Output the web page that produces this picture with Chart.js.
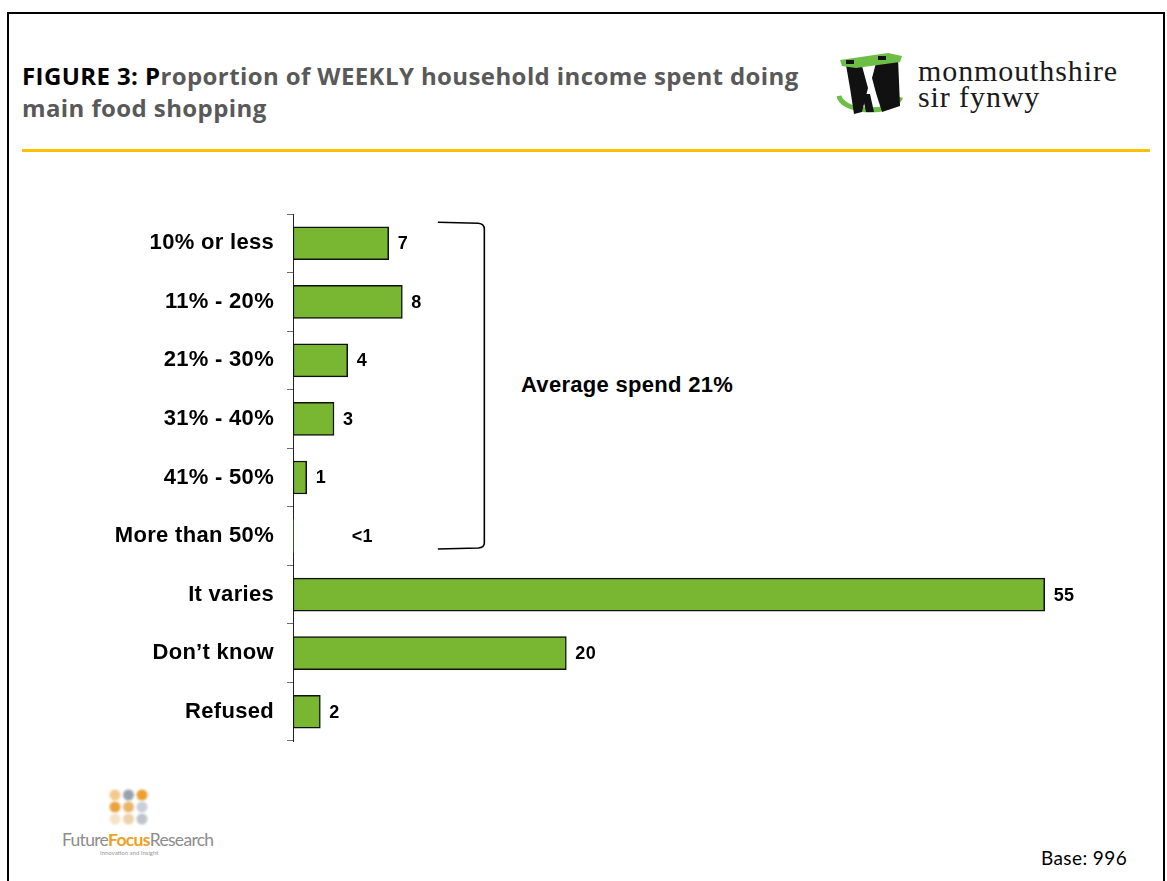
<!DOCTYPE html>
<html>
<head>
<meta charset="utf-8">
<title>Proportion of weekly household income spent doing main food shopping</title>
<script src="https://cdn.jsdelivr.net/npm/chart.js@4.4.1/dist/chart.umd.min.js"></script>
<style>
  html, body { margin: 0; padding: 0; background: #fff; }
  #wrap { position: relative; width: 1167px; height: 881px; overflow: hidden; background: #fff; }
  #frame { position: absolute; left: 7px; top: 12px; width: 1158px; height: 900px;
           border: 2px solid #000; border-bottom: none; box-sizing: border-box; }
  #rule { position: absolute; left: 22px; top: 149px; width: 1128px; height: 3px; background: #FFC000; }
  #title { position: absolute; left: 22px; top: 60px; font-family: "Open Sans", Lato, sans-serif;
           font-weight: 700; font-size: 24px; line-height: 32px; letter-spacing: 0.4px;
           color: #595959; white-space: nowrap; }
  #title .lead { color: #000; }
  #council { position: absolute; left: 918px; top: 58px; font-family: "Liberation Serif", "DejaVu Serif", serif;
             font-size: 30px; line-height: 26px; letter-spacing: 0.9px; color: #1a1a1a; }
  #avg { position: absolute; left: 521px; top: 372px; font-family: "Liberation Sans", Arial, sans-serif;
         font-weight: 700; font-size: 22px; letter-spacing: 0.3px; color: #000; white-space: nowrap; }
  #ffr { position: absolute; left: 62px; top: 829px; font-family: Lato, "Open Sans", sans-serif;
         font-size: 17.5px; letter-spacing: -0.7px; color: #8c8c8c; white-space: nowrap; }
  #ffr b { color: #F0A020; }
  #ffrsub { position: absolute; left: 100px; top: 849px; font-family: Lato, sans-serif; font-size: 6px; color: #999; }
  #base { position: absolute; left: 1041px; top: 846px; font-family: Lato, "Open Sans", sans-serif;
          font-size: 19px; letter-spacing: 0.4px; color: #000; white-space: nowrap; }
  canvas#chart { position: absolute; left: 0; top: 0; }
  canvas#emblem, canvas#dots { position: absolute; }
</style>
</head>
<body>
<div id="wrap">
  <div id="frame"></div>
  <div id="title"><span class="lead">FIGURE 3: P</span>roportion of WEEKLY household income spent doing<br>main food shopping</div>
  <canvas id="emblem" width="80" height="70" style="left:832px;top:48px"></canvas>
  <div id="council">monmouthshire<br>sir fynwy</div>
  <div id="rule"></div>
  <div id="avg">Average spend 21%</div>
  <canvas id="dots" width="50" height="42" style="left:104px;top:784px"></canvas>
  <div id="ffr">Future<b>Focus</b>Research</div>
  <div id="ffrsub">Innovation and Insight</div>
  <div id="base">Base: 996</div>
  <canvas id="chart" width="1167" height="881"></canvas>
</div>

<script>
// Answer categories (top to bottom)
const categories = [
  '10% or less', '11% - 20%', '21% - 30%', '31% - 40%', '41% - 50%',
  'More than 50%', 'It varies', 'Don\u2019t know', 'Refused'
];
// Percentage of respondents
const shares = [7, 8, 4, 3, 1, 0, 55, 20, 2];
// Text printed beside each bar
const valueLabels = ['7', '8', '4', '3', '1', '<1', '55', '20', '2'];
// Horizontal scale range
const axisRange = [0, 60];

const BAR_GREEN = '#79B733';
const TEXT_SPACING = '0.3px';

// Slightly tracked-out lettering for all chart text
const textTracking = {
  id: 'textTracking',
  beforeDraw(chart) { chart.ctx.letterSpacing = TEXT_SPACING; }
};

// Value labels beside each bar; sub-1% values get their label set further out
const barValueLabels = {
  id: 'barValueLabels',
  afterDatasetsDraw(chart) {
    const ctx = chart.ctx;
    const meta = chart.getDatasetMeta(0);
    const xs = chart.scales.x;
    ctx.save();
    ctx.letterSpacing = TEXT_SPACING;
    ctx.font = 'bold 18px "Liberation Sans", Arial, sans-serif';
    ctx.fillStyle = '#000';
    ctx.textBaseline = 'middle';
    ctx.textAlign = 'left';
    meta.data.forEach((bar, i) => {
      const v = shares[i];
      const x = v < 1 ? xs.getPixelForValue(4.3) : bar.x + 9;
      ctx.fillText(valueLabels[i], x, bar.y + 1);
    });
    ctx.restore();
  }
};

// Bracket grouping the percentage bands (first six categories)
const bandBracket = {
  id: 'bandBracket',
  afterDraw(chart) {
    const ctx = chart.ctx;
    const xs = chart.scales.x, ys = chart.scales.y;
    const x0 = xs.getPixelForValue(10.6);
    const x1 = xs.getPixelForValue(14.0);
    const top = ys.getPixelForValue(0) - 21;
    const bot = ys.getPixelForValue(5) + 13;
    ctx.save();
    ctx.strokeStyle = '#000';
    ctx.lineWidth = 1.6;
    ctx.beginPath();
    ctx.moveTo(x0, top);
    ctx.lineTo(x1 - 6, top + 1);
    ctx.quadraticCurveTo(x1, top + 1.5, x1, top + 7);
    ctx.lineTo(x1, bot - 6);
    ctx.quadraticCurveTo(x1, bot - 1.5, x1 - 6, bot - 1);
    ctx.lineTo(x0, bot);
    ctx.stroke();
    ctx.restore();
  }
};

new Chart(document.getElementById('chart'), {
  type: 'bar',
  data: {
    labels: categories,
    datasets: [{
      data: shares,
      backgroundColor: BAR_GREEN,
      borderColor: '#111',
      borderWidth: c => (c.raw > 0 ? 1.5 : 0),
      borderSkipped: false,
      barThickness: 33
    }]
  },
  options: {
    indexAxis: 'y',
    responsive: false,
    animation: false,
    events: [],
    layout: { padding: { left: 0, top: 214, right: 54, bottom: 140 } },
    plugins: { legend: { display: false }, tooltip: { enabled: false } },
    scales: {
      x: { display: false, min: axisRange[0], max: axisRange[1] },
      y: {
        afterFit(scale) { scale.width = 293; },
        grid: {
          offset: true,
          drawOnChartArea: false,
          tickLength: 6,
          color: '#6f6f6f',
          lineWidth: 1
        },
        border: { display: true, color: '#222', width: 1 },
        ticks: {
          padding: 13,
          color: '#000',
          font: { family: '"Liberation Sans", Arial, sans-serif', weight: 'bold', size: 22 }
        }
      }
    }
  },
  plugins: [textTracking, barValueLabels, bandBracket]
});

// Council emblem: green parapet and base swoosh round a dark tower
(function () {
  const c = document.getElementById('emblem').getContext('2d');
  // base swoosh
  c.strokeStyle = '#6DBE45';
  c.lineWidth = 5;
  c.beginPath();
  c.ellipse(38, 47, 31, 15, 0, 0.05 * Math.PI, 0.98 * Math.PI);
  c.stroke();
  // tower body
  c.fillStyle = '#111';
  c.beginPath();
  c.moveTo(14, 17); c.lineTo(30, 18); c.lineTo(36, 40); c.lineTo(30, 64); c.lineTo(22, 66); c.lineTo(18, 40);
  c.closePath(); c.fill();
  c.beginPath();
  c.moveTo(44, 15); c.lineTo(66, 10); c.lineTo(68, 58); c.lineTo(50, 64); c.lineTo(44, 45); c.lineTo(40, 30);
  c.closePath(); c.fill();
  c.beginPath();
  c.moveTo(30, 46); c.lineTo(38, 46); c.lineTo(42, 64); c.lineTo(34, 64);
  c.closePath(); c.fill();
  // parapet
  c.fillStyle = '#6DBE45';
  c.beginPath();
  c.moveTo(8, 12); c.lineTo(56, 5); c.lineTo(70, 8); c.lineTo(68, 14); c.lineTo(24, 20); c.lineTo(10, 18);
  c.closePath(); c.fill();
  c.fillStyle = '#111';
  c.fillRect(14, 12, 8, 4);
  c.fillRect(46, 8, 8, 4);
})();

// Research company dot mark
(function () {
  const c = document.getElementById('dots').getContext('2d');
  const cols = [
    ['#F3C98C', '#98A2AE', '#EE9E2E'],
    ['#ECA23A', '#E8B56B', '#C9CEDA'],
    ['#F5E3C8', '#EED2AA', '#BFC3CB']
  ];
  c.filter = 'blur(0.8px)';
  cols.forEach((row, r) => row.forEach((col, k) => {
    c.fillStyle = col;
    c.beginPath();
    c.arc(11 + k * 13.5, 11 + r * 12, 5.5, 0, Math.PI * 2);
    c.fill();
  }));
})();
</script>
</body>
</html>
